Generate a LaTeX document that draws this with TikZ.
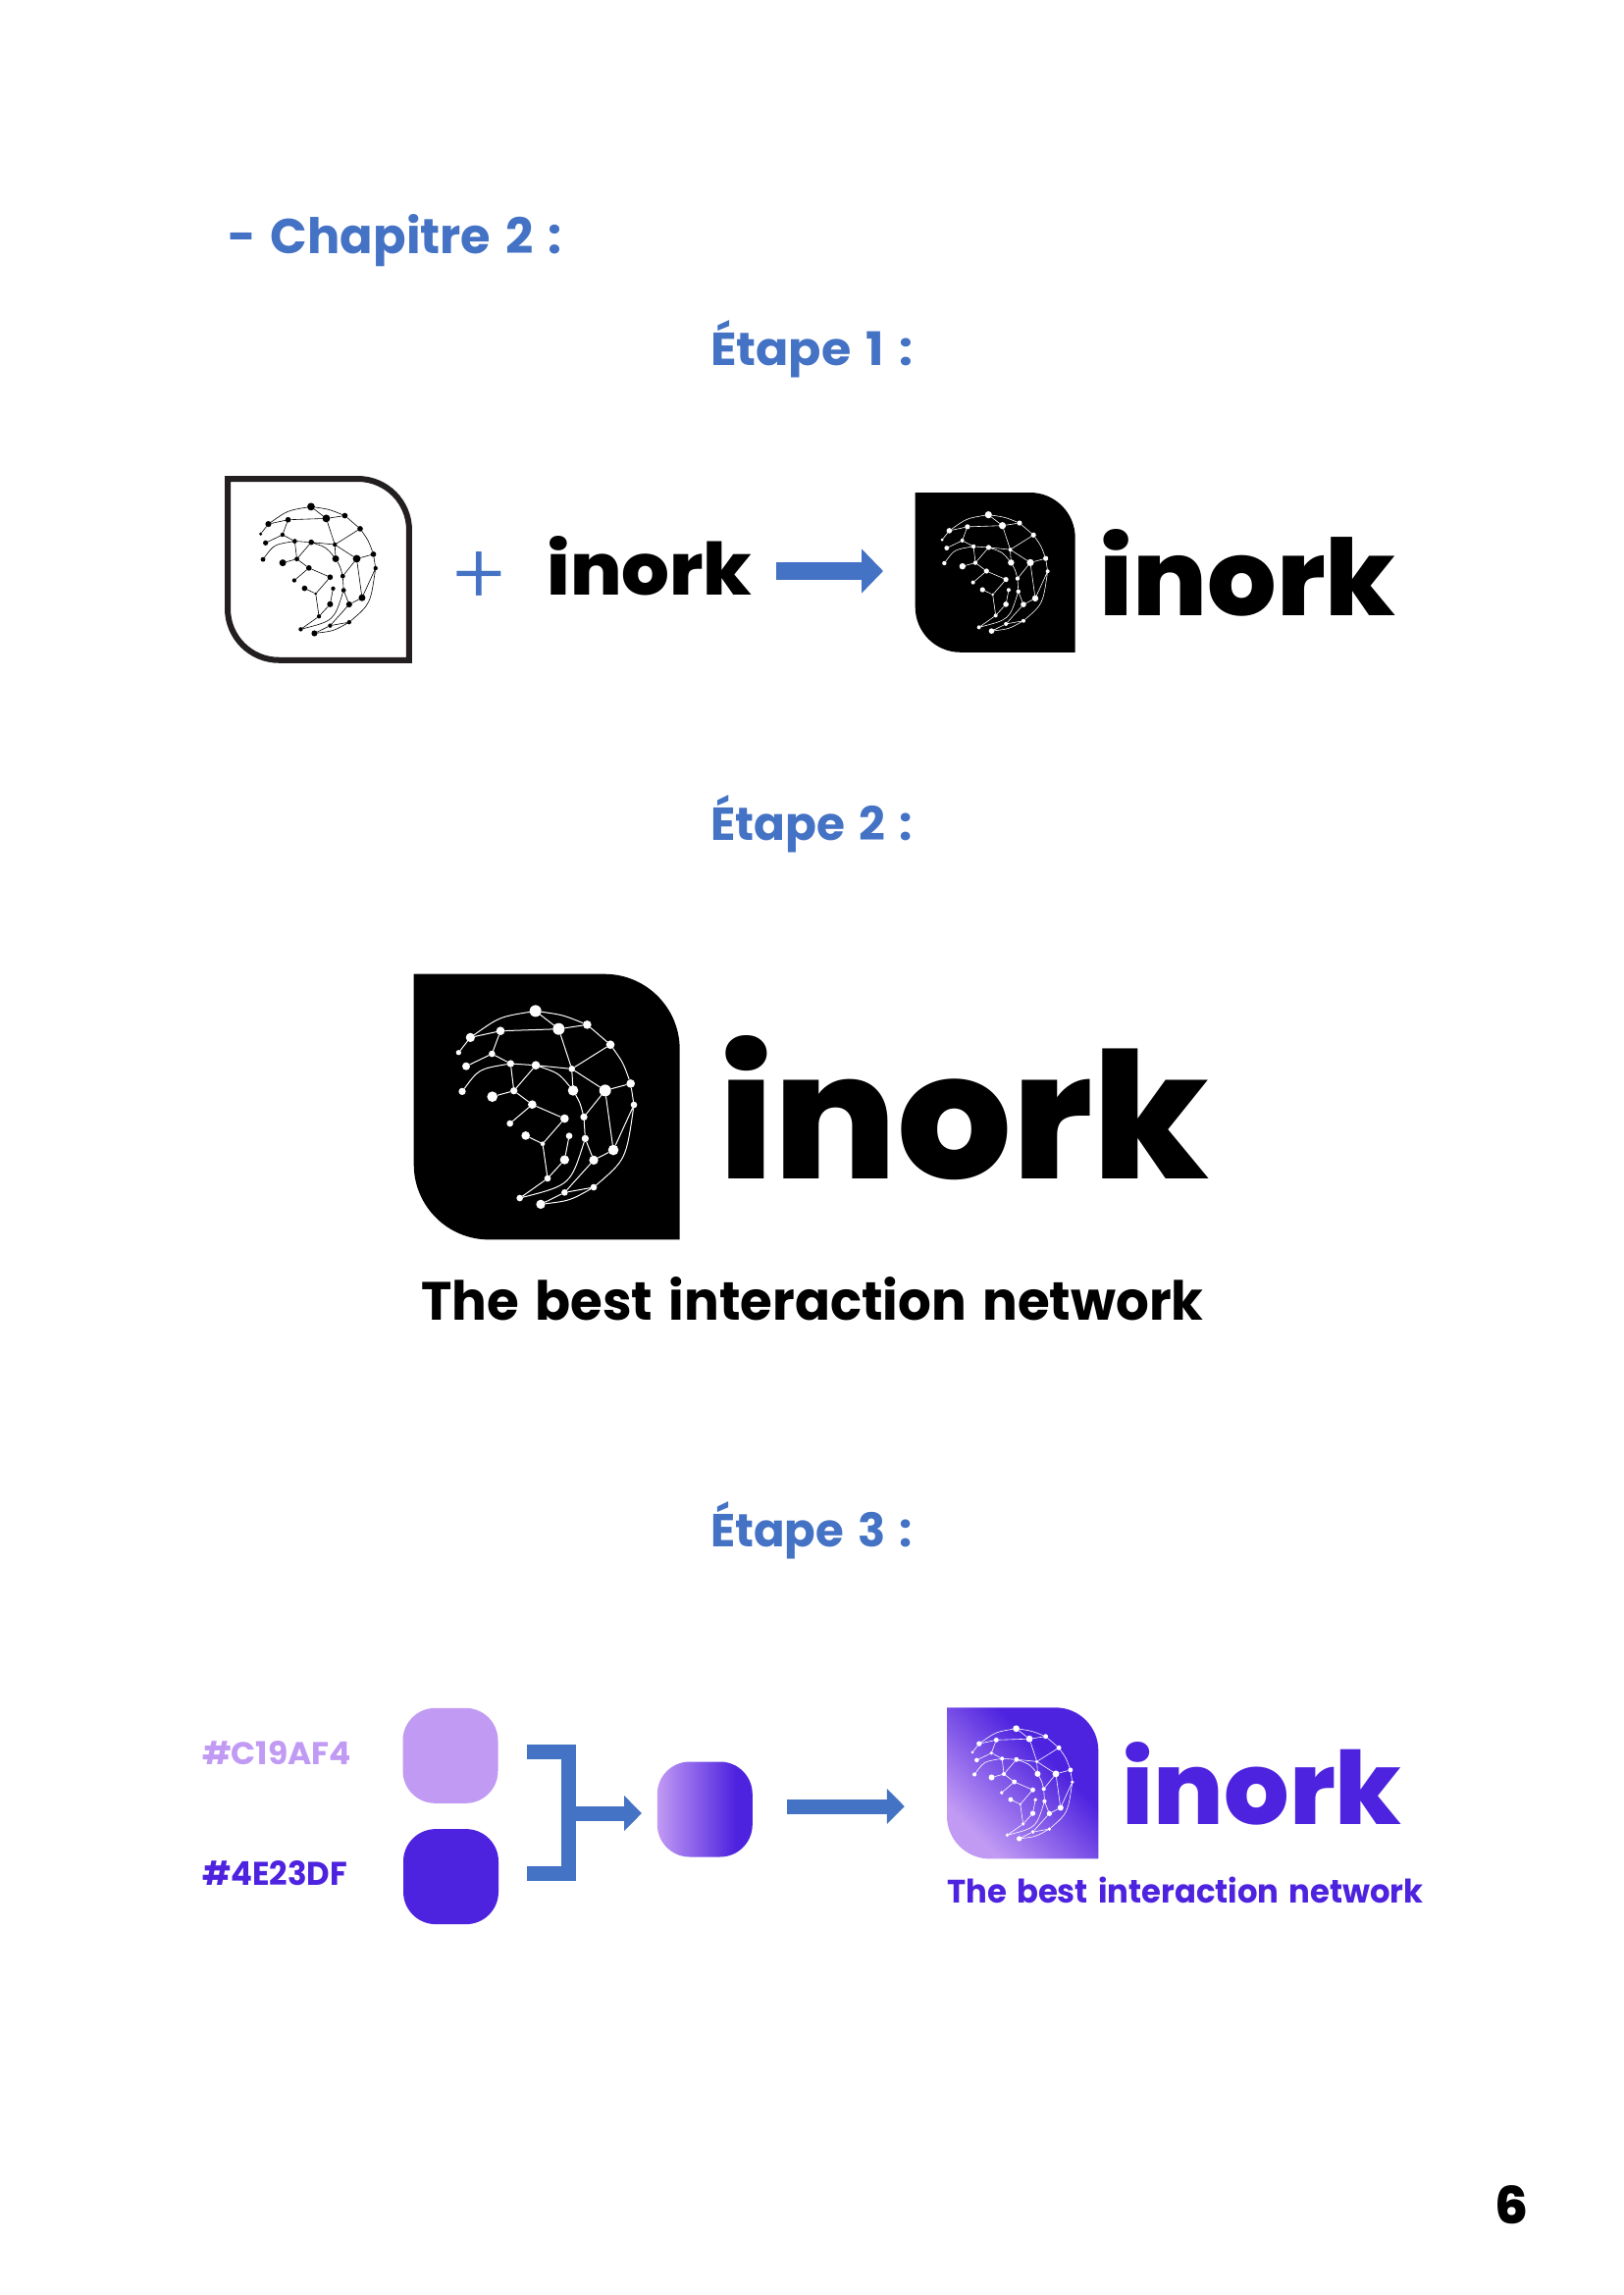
\documentclass[tikz,border=0pt]{standalone}
\usepackage{fontspec}
\usetikzlibrary{arrows.meta}
\newfontfamily\fut[WordSpace=1.45]{Poppins}
\newfontfamily\futx{Poppins ExtraBold}
\newfontfamily\futl{Poppins Light}
\definecolor{brandblue}{HTML}{4472C4}
\definecolor{indigo}{HTML}{4E23DF}
\definecolor{lavender}{HTML}{C19AF4}
\definecolor{inkline}{HTML}{231F20}
\pgfdeclareverticalshading{logograd}{100bp}{color(0bp)=(lavender); color(27bp)=(lavender); color(62bp)=(indigo); color(100bp)=(indigo)}
\pgfdeclarehorizontalshading{swatchgrad}{100bp}{color(0bp)=(lavender); color(25bp)=(lavender); color(66bp)=(indigo); color(100bp)=(indigo)}
\tikzset{
  x=0.5pt,y=-0.5pt,
  txt/.style={inner sep=0pt,outer sep=0pt,anchor=base west},
  dot/.style={circle,inner sep=0pt,outer sep=0pt,transform shape},
  swatch/.style={rectangle,minimum width=48.5pt,minimum height=48.5pt,inner sep=0pt,rounded corners=16.5pt},
  wide arrow/.style={brandblue,line width=#1,line cap=butt},
}
% label fitted to a measured width and height (pixels of the reference)
\newcommand\lab[7]{\node[txt,text=#6] (#1) at (#2,#3) {\resizebox{\dimexpr #4pt/2\relax}{\dimexpr #5pt/2\relax}{\fut\bfseries #7}};}
\newcommand\wordmark[6]{\node[txt,text=#6] (#1) at (#2,#3) {\resizebox{\dimexpr #4pt/2\relax}{\dimexpr #5pt/2\relax}{\futx inork}};}
% logo outline, in crop units
\def\frameshape{(65,68) -- (648,68) .. controls (775,68) and (878,171) .. (878,298) -- (878,880) -- (295,880) .. controls (168,880) and (65,777) .. (65,650) -- cycle}
% #1 left, #2 top, #3 size, #4 path options
\newcommand\logoframe[4]{%
  \pgfmathsetmacro\fs{#3/813}\pgfmathsetmacro\ox{#1-65*\fs}\pgfmathsetmacro\oy{#2-68*\fs}
  \begin{scope}[shift={(\ox,\oy)},scale=\fs]
    \path[#4] \frameshape;
  \end{scope}}
% #1 prefix, #2 left, #3 top, #4 size, #5 colour, #6 line width
\newcommand\netw[6]{%
  \pgfmathsetmacro\fs{#4/813}\pgfmathsetmacro\ox{#2-65*\fs}\pgfmathsetmacro\oy{#3-68*\fs}
  \begin{scope}[shift={(\ox,\oy)},scale=\fs,name prefix=#1-]
    \foreach \n/\xx/\yy/\r in {A/437/181/18,B/595/223/13,C/508/236/18,D/330/242/13,E/238/262/14,F/202/308/8,G/304/312/10,H/225/350/12,I/361/342/11,J/438/347/13,K/548/358/10,L/666/284/13,M/213/427/11,N/305/443/16,O/371/425/11,P/552/424/16,Q/650/424/18,R/728/403/13,S/738/468/10,T/427/467/13,U/585/505/11,V/359/525/10,W/526/510/13,X/407/562/13,Y/459/587/7,Z/540/563/10,a/589/571/11,b/526/636/14,c/615/637/14,d/675/606/16,e/474/693/10,f/389/753/10,g/526/736/10,h/615/720/10,i/453/772/14}
      {\node[dot,fill=#5,minimum size=\r*1pt] (\n) at (\xx,\yy) {};}
    \draw[#5,line width=#6]
      (E)--(D) (D)--(C) (A)--(C) (C)--(B) (E)--(F) (D)--(G) (G)--(H) (G)--(I) (I)--(J) (J)--(K)
      (C)--(K) (K)--(L) (K)--(P) (K)--(Q) (Q)--(R) (I)--(O) (O)--(J) (O)--(N) (O)--(T) (T)--(V)
      (T)--(W) (W)--(Y) (Y)--(X) (Y)--(e) (e)--(b) (b)--(Z) (e)--(f) (Q)--(U) (Q)--(d) (d)--(S)
      (d)--(c) (c)--(a) (U)--(a) (g)--(h) (i)--(g) (c)--(g) (B)--(L) (R)--(S)
      (E) .. controls (327,199) .. (A)
      (A) .. controls (521,193) .. (B)
      (L) .. controls (705,339) .. (R)
      (S) .. controls (714,635) .. (h)
      (h) .. controls (542,761) .. (i)
      (M) .. controls (264,358) .. (I)
      (J) .. controls (508,371) .. (P)
      (P) .. controls (573,461) .. (U)
      (a) .. controls (544,713) .. (f);
  \end{scope}}
\begin{document}
\begin{tikzpicture}
\useasboundingbox[fill=white] (0,0) rectangle (1654,2339);

% headings
\lab{chap}{232}{258}{341}{40}{brandblue}{- Chapitre 2 :}
\lab{step1}{724}{372}{206}{46}{brandblue}{Étape 1 :}
\lab{step2}{724}{856}{206}{46}{brandblue}{Étape 2 :}
\lab{step3}{724}{1576}{206}{46}{brandblue}{Étape 3 :}

% step 1
\logoframe{232}{488}{185}{draw=inkline,line width=3pt,miter limit=10}
\netw{o}{235.7}{491.7}{177.6}{black}{0.3pt}
\node[inner sep=0pt,text=brandblue,font=\futl\fontsize{44pt}{44pt}\selectfont] (plus) at (488.5,590) {+};
\wordmark{w1}{557.5}{606.7}{209}{60}{black}
\coordinate (a1s) at (791,582);
\coordinate (a1e) at (900,582);
\draw[wide arrow=9pt,-{Triangle[length=11pt,width=22pt]}] (a1s) -- (a1e);
\logoframe{932.7}{502}{163}{fill=black}
\netw{p}{932.7}{502}{163}{white}{0.3pt}
\wordmark{w2}{1120.5}{627}{302}{88}{black}

% step 2
\logoframe{421.7}{992.7}{271}{fill=black}
\netw{q}{421.7}{992.7}{271}{white}{0.5pt}
\wordmark{w3}{732}{1201}{500}{146}{black}
\lab{tag1}{429.5}{1345}{797}{44}{black}{The best interaction network}

% step 3
\lab{hex1}{206}{1798}{152}{24}{lavender}{\#C19AF4}
\lab{hex2}{206}{1921.7}{148}{25}{indigo}{\#4E23DF}
\node[swatch,fill=lavender] (sw1) at (459,1789.3) {};
\node[swatch,fill=indigo] (sw2) at (459.5,1912.6) {};
\node[swatch,shading=swatchgrad] (sw3) at (718.3,1844) {};
\coordinate (bt) at (536.8,1785.8);
\coordinate (bb) at (536.8,1909.2);
\coordinate (bc) at (579,1848);
\coordinate (bm) at (586,1848);
\coordinate (bh) at (654,1848);
\coordinate (a2s) at (802.4,1841);
\coordinate (a2e) at (921.8,1841);
\draw[wide arrow=7.5pt] (bt) -- (bt -| bc) -- (bb -| bc) -- (bb);
\draw[wide arrow=7.5pt,-{Triangle[length=9pt,width=17.5pt]}] (bm) -- (bh);
\draw[wide arrow=7.5pt,-{Triangle[length=9pt,width=17.5pt]}] (a2s) -- (a2e);
\logoframe{965}{1740.3}{154.3}{shading=logograd,shading angle=-45}
\netw{r}{965}{1740.3}{154.3}{white}{0.3pt}
\wordmark{w4}{1143.5}{1859}{285}{84}{indigo}
\lab{tag2}{965.5}{1939}{485}{26.5}{indigo}{The best interaction network}

% page number
\node[txt,text=black] (page) at (1523,2266) {\resizebox{17pt}{19.5pt}{\futx 6}};
\end{tikzpicture}
\end{document}
